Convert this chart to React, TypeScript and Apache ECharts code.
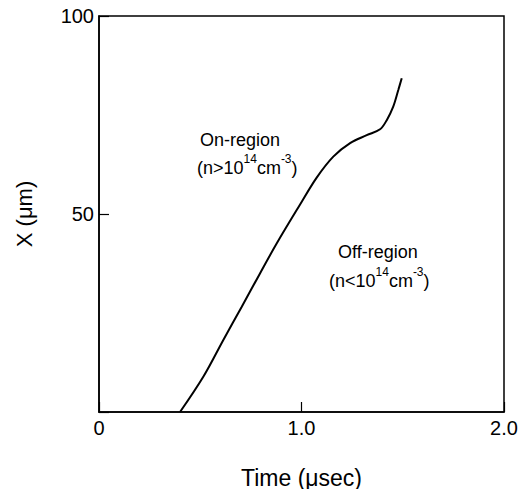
import React, { useEffect, useRef } from "react";
import * as echarts from "echarts";

const timeUs = [0.4, 0.515, 0.614, 0.705, 0.795, 0.878, 0.993, 1.075, 1.157, 1.24, 1.322, 1.388, 1.421, 1.453, 1.478, 1.495];
const xMicron = [0, 8.9, 18.2, 26.6, 35.0, 42.6, 52.4, 59.2, 64.5, 67.9, 69.9, 71.4, 73.7, 77.1, 81.3, 84.3];
const xTickLabels: Record<number, string> = { 0: "0", 1: "1.0", 2: "2.0" };
const yTickLabels: Record<number, string> = { 0: "", 50: "50", 100: "100" };

const FONT = "Liberation Sans";

export default function App() {
  const ref = useRef<HTMLDivElement>(null);
  useEffect(() => {
    document.body.style.margin = "0";
    const chart = echarts.init(ref.current!, null, { renderer: "svg" });
    const richSup = (open: string) => ({
      type: "text",
      style: {
        text: `{n|${open}10}{s|14}{n|cm}{s|-3}{n|)}`,
        fill: "#000",
        rich: {
          n: { fontSize: 18, fontFamily: FONT, lineHeight: 24, verticalAlign: "bottom", fill: "#000" },
          s: { fontSize: 12, fontFamily: FONT, lineHeight: 24, verticalAlign: "top", fill: "#000" },
        },
      },
    });
    chart.setOption({
      animation: false,
      backgroundColor: "#fff",
      textStyle: { fontFamily: FONT, color: "#000" },
      grid: {
        left: 99,
        right: 28,
        top: 16,
        bottom: 77,
        outerBoundsMode: "none",
        containLabel: false,
        show: true,
        borderColor: "#000",
        borderWidth: 1.5,
      },
      xAxis: {
        type: "value",
        min: 0,
        max: 2,
        interval: 1,
        name: "Time (μsec)",
        nameLocation: "middle",
        nameGap: 54,
        nameTextStyle: { fontSize: 23, color: "#000", fontFamily: FONT },
        axisLine: { show: true, lineStyle: { color: "#000", width: 1.5 } },
        axisTick: { show: true, inside: true, length: 10, lineStyle: { color: "#000", width: 1.2 } },
        axisLabel: {
          fontSize: 20,
          color: "#000",
          margin: 6,
          fontFamily: FONT,
          formatter: (v: number) => xTickLabels[v] ?? "",
        },
        splitLine: { show: false },
      },
      yAxis: {
        type: "value",
        min: 0,
        max: 100,
        interval: 50,
        name: "X (μm)",
        nameLocation: "middle",
        nameGap: 64,
        nameRotate: 90,
        nameTextStyle: { fontSize: 22, color: "#000", fontFamily: FONT },
        axisLine: { show: true, lineStyle: { color: "#000", width: 1.5 } },
        axisTick: { show: true, inside: true, length: 10, lineStyle: { color: "#000", width: 1.2 } },
        axisLabel: {
          fontSize: 20,
          color: "#000",
          margin: 5,
          fontFamily: FONT,
          formatter: (v: number) => yTickLabels[v] ?? "",
        },
        splitLine: { show: false },
      },
      series: [
        {
          type: "line",
          data: timeUs.map((t, i) => [t, xMicron[i]]),
          smooth: 0.35,
          showSymbol: false,
          lineStyle: { color: "#000", width: 2 },
        },
      ],
      graphic: [
        {
          type: "text",
          left: 200,
          top: 131,
          style: { text: "On-region", fontSize: 18, fontFamily: FONT, fill: "#000" },
        },
        { ...richSup("(n>"), left: 197, top: 153 },
        {
          type: "text",
          left: 338,
          top: 243,
          style: { text: "Off-region", fontSize: 18, fontFamily: FONT, fill: "#000" },
        },
        { ...richSup("(n<"), left: 329, top: 266 },
      ],
    });
    return () => chart.dispose();
  }, []);
  return <div ref={ref} style={{ width: 532, height: 489 }} />;
}
